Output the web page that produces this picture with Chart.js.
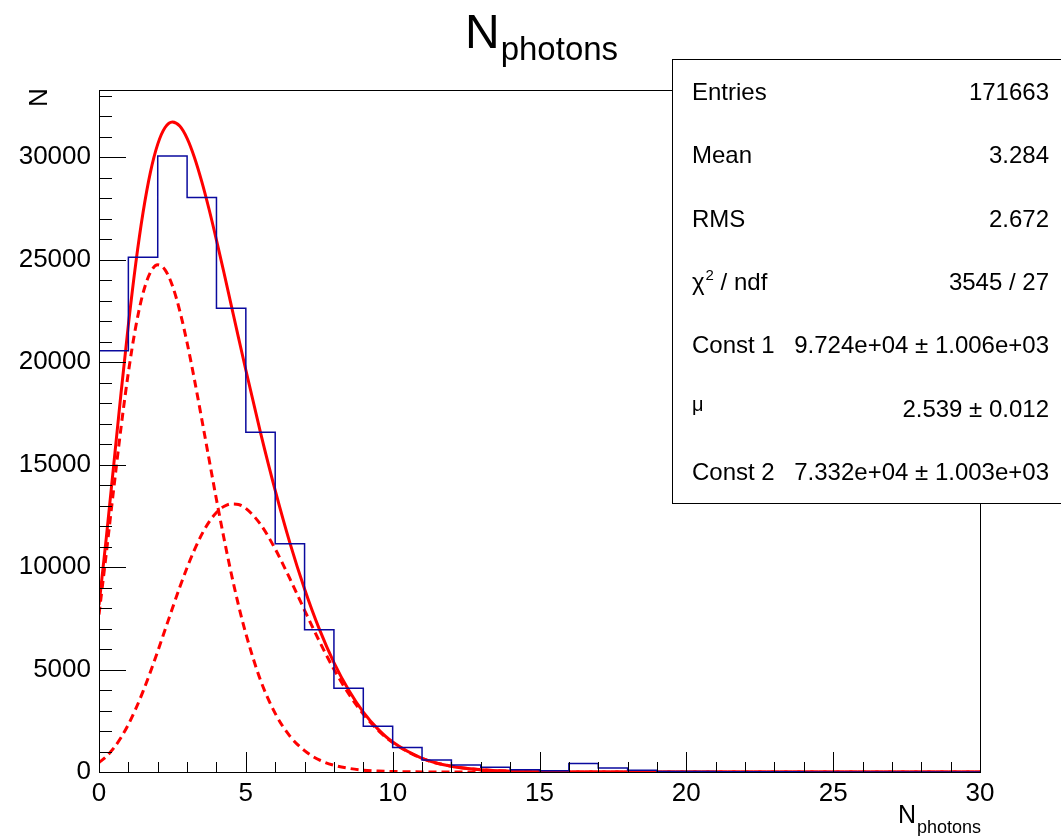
<!DOCTYPE html>
<html>
<head>
<meta charset="utf-8">
<script src="https://cdn.jsdelivr.net/npm/chart.js@4.4.1/dist/chart.umd.min.js"></script>
<style>
body { margin: 0; background: #fff; }
#wrap { width: 1061px; height: 836px; position: relative; }
</style>
</head>
<body>
<div id="wrap"><canvas id="chart"></canvas></div>
<script>
// histogram: 30 bins of width 1 from 0 to 30
const binCounts = [20550, 25110, 30050, 28030, 22620, 16570, 11140, 6940, 4080, 2230,
    1200, 585, 340, 230, 115, 65, 420, 195, 80, 30,
    20, 15, 10, 8, 5, 5, 3, 2, 2, 1];

// fit curves
const curveX = [0, 0.25, 0.5, 0.75, 1, 1.25, 1.5, 1.75, 2, 2.25, 2.5, 2.75, 3, 3.25, 3.5, 3.75, 4, 4.25, 4.5, 4.75, 5,
    5.5, 6, 6.5, 7, 7.5, 8, 8.5, 9, 9.5, 10,
    11, 12, 13, 14, 15, 16, 17, 18, 19, 20,
    22, 24, 26, 28, 30];
const fitTotal = [8140, 11450, 14960, 18480, 21810, 24790, 27290, 29250, 30630, 31440, 31710, 31510, 30910, 29980, 28800, 27440, 25950, 24390, 22790, 21190, 19610,
    16560, 13740, 11180, 8930, 6980, 5340, 4000, 2920, 2090, 1460,
    670, 280, 110, 40, 13, 4, 1, 0, 0, 0,
    0, 0, 0, 0, 0];
const fitComp1 = [7680, 10690, 13800, 16800, 19490, 21710, 23360, 24370, 24740, 24500, 23720, 22500, 20940, 19140, 17210, 15240, 13290, 11440, 9710, 8140, 6750,
    4480, 2860, 1750, 1040, 590, 330, 180, 90, 50, 25,
    5, 1, 0, 0, 0, 0, 0, 0, 0, 0,
    0, 0, 0, 0, 0];
const fitComp2 = [457, 757, 1162, 1682, 2320, 3075, 3933, 4879, 5891, 6938, 7988, 9010, 9970, 10840, 11590, 12200, 12660, 12950, 13080, 13050, 12860,
    12080, 10880, 9430, 7890, 6390, 5010, 3820, 2830, 2040, 1440,
    660, 280, 110, 40, 13, 4, 1, 0, 0, 0,
    0, 0, 0, 0, 0];

const xTickLabels = [0, 5, 10, 15, 20, 25, 30];
const yTickLabels = [0, 5000, 10000, 15000, 20000, 25000, 30000];

const statLabels = ['Entries', 'Mean', 'RMS', 'chi2', 'Const 1', 'mu', 'Const 2'];
const statValues = ['171663', '3.284', '2.672', '3545 / 27', '9.724e+04 \u00b1 1.006e+03', '2.539 \u00b1 0.012', '7.332e+04 \u00b1 1.003e+03'];

const FONT = '"Liberation Sans", Arial, Helvetica, sans-serif';

function toPoints(xs, ys) {
    return xs.map((x, i) => ({ x: x, y: ys[i] }));
}

function histPoints() {
    const pts = binCounts.map((c, i) => ({ x: i, y: c }));
    pts.push({ x: binCounts.length, y: binCounts[binCounts.length - 1] });
    return pts;
}

function font(size) {
    return size + 'px ' + FONT;
}

// main text with a lowered subscript
function drawSub(ctx, x, y, main, sub, mainSize, subSize, drop) {
    ctx.font = font(mainSize);
    ctx.fillText(main, x, y);
    const w = ctx.measureText(main).width;
    ctx.font = font(subSize);
    ctx.fillText(sub, x + w + 1, y + drop);
    return w + 1 + ctx.measureText(sub).width;
}

const rootStyle = {
    id: 'rootStyle',
    afterDraw(chart) {
        const ctx = chart.ctx;
        const area = chart.chartArea;
        const xs = chart.scales.x;
        const ys = chart.scales.y;
        ctx.save();
        ctx.strokeStyle = '#000';
        ctx.lineWidth = 1;

        // frame
        ctx.strokeRect(Math.round(area.left) + 0.5, Math.round(area.top) + 0.5,
            Math.round(area.right - area.left), Math.round(area.bottom - area.top));

        // ticks inside the frame
        ctx.beginPath();
        for (let v = 0; v <= ys.max; v += 1000) {
            const py = Math.round(ys.getPixelForValue(v)) + 0.5;
            const len = v % 5000 === 0 ? 27 : 13;
            ctx.moveTo(area.left, py);
            ctx.lineTo(area.left + len, py);
        }
        for (let v = 0; v <= xs.max; v += 1) {
            const px = Math.round(xs.getPixelForValue(v)) + 0.5;
            const len = v % 5 === 0 ? 20 : 10;
            ctx.moveTo(px, area.bottom);
            ctx.lineTo(px, area.bottom - len);
        }
        ctx.stroke();

        // title
        ctx.fillStyle = '#000';
        ctx.textAlign = 'left';
        ctx.textBaseline = 'alphabetic';
        drawSub(ctx, 465, 48, 'N', 'photons', 48, 33, 12);

        // x axis title, right aligned to the frame
        ctx.font = font(25);
        let w = ctx.measureText('N').width + 1;
        ctx.font = font(18);
        w += ctx.measureText('photons').width;
        drawSub(ctx, area.right + 1 - w, 823, 'N', 'photons', 25, 18, 10);

        // y axis title
        ctx.save();
        ctx.translate(47, 107);
        ctx.rotate(-Math.PI / 2);
        ctx.font = font(26);
        ctx.fillText('N', 0, 0);
        ctx.restore();

        // stats box
        ctx.fillStyle = '#fff';
        ctx.fillRect(672, 59, 400, 444);
        ctx.strokeRect(672.5, 59.5, 400, 444);
        ctx.fillStyle = '#000';
        for (let i = 0; i < statLabels.length; i++) {
            const by = 100 + 63.3 * i;
            ctx.textAlign = 'left';
            ctx.font = font(24);
            if (statLabels[i] === 'chi2') {
                ctx.fillText('\u03c7', 692, by);
                const cw = ctx.measureText('\u03c7').width;
                ctx.font = font(15);
                ctx.fillText('2', 692 + cw + 1, by - 10);
                const sw = ctx.measureText('2').width;
                ctx.font = font(24);
                ctx.fillText(' / ndf', 692 + cw + sw + 1, by);
            } else if (statLabels[i] === 'mu') {
                ctx.font = font(20);
                ctx.fillText('\u03bc', 692, by - 6);
            } else {
                ctx.fillText(statLabels[i], 692, by);
            }
            ctx.font = font(24);
            ctx.textAlign = 'right';
            ctx.fillText(statValues[i], 1049, by);
        }
        ctx.restore();
    }
};

Chart.defaults.font.family = FONT;
Chart.defaults.color = '#000';

const ctx = document.getElementById('chart').getContext('2d');
new Chart(ctx, {
    type: 'line',
    data: {
        datasets: [
            {
                label: 'histogram',
                data: histPoints(),
                stepped: 'before',
                borderColor: '#0a0a9e',
                borderWidth: 1.5,
                pointRadius: 0,
                fill: false
            },
            {
                label: 'component 1',
                data: toPoints(curveX, fitComp1),
                borderColor: '#ff0000',
                borderWidth: 3,
                borderDash: [8, 5],
                cubicInterpolationMode: 'monotone',
                pointRadius: 0,
                fill: false
            },
            {
                label: 'component 2',
                data: toPoints(curveX, fitComp2),
                borderColor: '#ff0000',
                borderWidth: 3,
                borderDash: [8, 5],
                cubicInterpolationMode: 'monotone',
                pointRadius: 0,
                fill: false
            },
            {
                label: 'fit',
                data: toPoints(curveX, fitTotal),
                borderColor: '#ff0000',
                borderWidth: 3,
                cubicInterpolationMode: 'monotone',
                pointRadius: 0,
                fill: false
            }
        ]
    },
    options: {
        responsive: true,
        maintainAspectRatio: false,
        animation: false,
        events: [],
        layout: { padding: { left: 0, right: 81, top: 90, bottom: 0 } },
        plugins: {
            legend: { display: false },
            tooltip: { enabled: false },
            title: { display: false }
        },
        scales: {
            x: {
                type: 'linear',
                min: 0,
                max: 30,
                grid: { display: false, drawTicks: false },
                border: { display: false },
                afterBuildTicks: function(scale) {
                    scale.ticks = xTickLabels.map(v => ({ value: v }));
                },
                afterFit: function(scale) { scale.height = 64; },
                ticks: {
                    padding: 6,
                    maxRotation: 0,
                    autoSkip: false,
                    font: { size: 26 },
                    callback: v => String(v)
                }
            },
            y: {
                type: 'linear',
                min: 0,
                max: 33270,
                grid: { display: false, drawTicks: false },
                border: { display: false },
                afterBuildTicks: function(scale) {
                    scale.ticks = yTickLabels.map(v => ({ value: v }));
                },
                afterFit: function(scale) { scale.width = 99; },
                ticks: {
                    padding: 8,
                    autoSkip: false,
                    font: { size: 26 },
                    callback: v => String(v)
                }
            }
        }
    },
    plugins: [rootStyle]
});
</script>
</body>
</html>
